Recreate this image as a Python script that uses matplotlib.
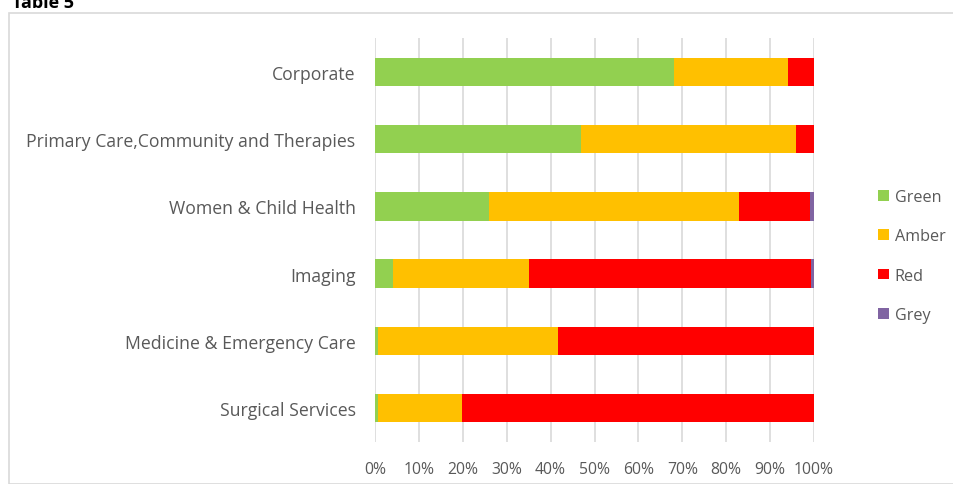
import matplotlib
matplotlib.use("Agg")
import matplotlib.pyplot as plt
import numpy as np
from matplotlib.patches import Rectangle

plt.rcParams['font.family'] = ['Open Sans', 'DejaVu Sans']

categories = ["Corporate",
              "Primary Care,Community and Therapies",
              "Women & Child Health",
              "Imaging",
              "Medicine & Emergency Care",
              "Surgical Services"]
green = [68.0, 47.0, 26.0, 4.0, 0.7, 0.7]
amber = [26.0, 49.0, 57.0, 31.0, 41.0, 19.1]
red = [6.0, 4.0, 16.0, 64.3, 58.3, 80.2]
grey = [0.0, 0.0, 1.0, 0.7, 0.0, 0.0]
series_names = ["Green", "Amber", "Red", "Grey"]
colors = ["#92D050", "#FFC000", "#FF0000", "#8064A2"]
xticks = [0, 10, 20, 30, 40, 50, 60, 70, 80, 90, 100]
xtick_labels = [f"{t}%" for t in xticks]

W, H = 954, 485
fig = plt.figure(figsize=(W / 100, H / 100), dpi=100)

# chart frame
fig.patches.append(Rectangle((9 / W, 0), 1, 1 - 14 / H, transform=fig.transFigure,
                             fill=False, edgecolor="#D9D9D9", linewidth=1.2))
fig.text(12 / W, 1 - 8 / H, "Table 5", fontsize=13, fontweight="bold",
         ha="left", va="baseline", color="black")

ax = fig.add_axes([375 / W, 1 - 442.6 / H, (814 - 375) / W, (442.6 - 39.4) / H])

y = np.arange(len(categories))
left = np.zeros(len(categories))
for vals, name, c in zip([green, amber, red, grey], series_names, colors):
    ax.barh(y, vals, left=left, height=0.42, color=c, label=name, zorder=3)
    left += np.array(vals)

ax.set_ylim(len(categories) - 0.5, -0.5)
ax.set_xlim(0, 100)
ax.set_yticks(y)
ax.set_yticklabels(categories, fontsize=12.7, color="#595959")
ax.set_xticks(xticks)
ax.set_xticklabels(xtick_labels, fontsize=11.3, color="#595959")
ax.tick_params(length=0)
ax.tick_params(axis="x", pad=14)
ax.tick_params(axis="y", pad=14)
ax.grid(axis="x", color="#D9D9D9", linewidth=1.2, zorder=0)
for s in ax.spines.values():
    s.set_visible(False)

handles, labels = ax.get_legend_handles_labels()
fig.legend(handles, labels, loc="center left", bbox_to_anchor=(864 / W, 1 - 257 / H),
           frameon=False, fontsize=11.6, labelcolor="#595959",
           handlelength=0.65, handleheight=0.65, handletextpad=0.35, labelspacing=1.45)

fig.savefig("out.png", dpi=100)
